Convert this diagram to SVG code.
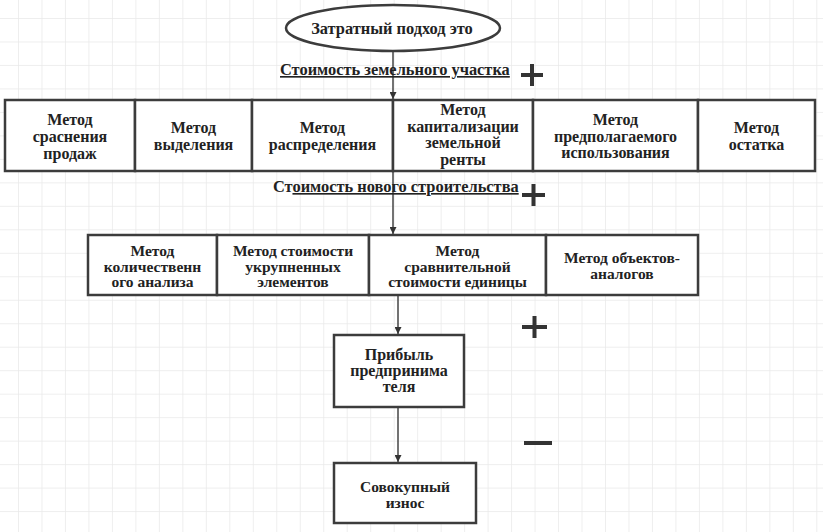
<svg xmlns="http://www.w3.org/2000/svg" width="823" height="532" viewBox="0 0 823 532">
<style>
.box{fill:#fff;stroke:#3c3c3c;stroke-width:2.5}
.t{font-family:"Liberation Serif","Times New Roman",serif;font-weight:bold;font-size:16.4px;fill:#222;text-anchor:middle}
.s{font-size:16px}
.r2{font-size:15.5px}
.lbl{font-family:"Liberation Serif","Times New Roman",serif;font-weight:bold;font-size:16.4px;fill:#222}
.u{text-decoration:underline}
.con{stroke:#444;stroke-width:1.5;fill:none;marker-end:url(#arr)}
.sign{stroke:#333;stroke-width:4;fill:none}
</style>
<defs>
<pattern id="grid" patternUnits="userSpaceOnUse" x="18" y="18" width="23.48" height="23.48">
<path d="M0 0H23.48M0 0V23.48" stroke="#e9e9e9" stroke-width="1.5" fill="none"/>
</pattern>
<marker id="arr" viewBox="0 0 10 10" refX="10" refY="5" markerWidth="7" markerHeight="7" markerUnits="userSpaceOnUse" orient="auto">
<path d="M0 0L10 5L0 10z" fill="#333"/>
</marker>
</defs>
<rect width="823" height="532" fill="#fff"/>
<rect width="823" height="532" fill="url(#grid)"/>

<g id="connectors">
<path class="con" d="M393 51V99"/>
<path class="con" d="M393 172V234"/>
<path class="con" d="M398 296V334"/>
<path class="con" d="M398 408V462"/>
</g>

<g id="start">
<ellipse cx="393" cy="28" rx="107" ry="23" fill="#fff" stroke="#3c3c3c" stroke-width="2.5"/>
<text class="t" x="392" y="34">Затратный подход это</text>
</g>

<g id="label-land">
<text class="lbl u" x="280" y="75">Стоимость земельного участка</text>
</g>
<g id="label-new">
<text class="lbl" x="273" y="192">Ст<tspan class="u">оимость нового строительства</tspan></text>
</g>

<g id="signs">
<path class="sign" d="M521 75H543M532 64V86"/>
<path class="sign" d="M522 195H545M533.5 184V206"/>
<path class="sign" d="M522 327H547M534.5 316V338"/>
<path class="sign" d="M524 443H552"/>
</g>

<g id="m1"><rect class="box" x="5" y="100" width="130" height="71"/>
<text class="t s" x="70" y="125">Метод<tspan x="70" dy="17">сраснения</tspan><tspan x="70" dy="17">продаж</tspan></text></g>
<g id="m2"><rect class="box" x="135" y="100" width="117" height="71"/>
<text class="t s" x="193.5" y="133">Метод<tspan x="193.5" dy="17">выделения</tspan></text></g>
<g id="m3"><rect class="box" x="252" y="100" width="141" height="71"/>
<text class="t s" x="322.5" y="133">Метод<tspan x="322.5" dy="17">распределения</tspan></text></g>
<g id="m4"><rect class="box" x="393" y="100" width="140" height="71"/>
<text class="t s" x="463" y="115">Метод<tspan x="463" dy="16.6">капитализации</tspan><tspan x="463" dy="16.6">земельной</tspan><tspan x="463" dy="16.6">ренты</tspan></text></g>
<g id="m5"><rect class="box" x="533" y="100" width="165" height="71"/>
<text class="t s" x="615.5" y="125">Метод<tspan x="615.5" dy="16.5">предполагаемого</tspan><tspan x="615.5" dy="16.5">использования</tspan></text></g>
<g id="m6"><rect class="box" x="698" y="100" width="117" height="71"/>
<text class="t s" x="756.5" y="133">Метод<tspan x="756.5" dy="16.5">остатка</tspan></text></g>

<g id="n1"><rect class="box" x="88" y="235" width="129" height="60"/>
<text class="t r2" x="152.5" y="256">Метод<tspan x="152.5" dy="15.6">количественн</tspan><tspan x="152.5" dy="15.6">ого анализа</tspan></text></g>
<g id="n2"><rect class="box" x="217" y="235" width="152" height="60"/>
<text class="t r2" x="293" y="256">Метод стоимости<tspan x="293" dy="15.6">укрупненных</tspan><tspan x="293" dy="15.6">элементов</tspan></text></g>
<g id="n3"><rect class="box" x="369" y="235" width="177" height="60"/>
<text class="t r2" x="457.5" y="256">Метод<tspan x="457.5" dy="15.6">сравнительной</tspan><tspan x="457.5" dy="15.6">стоимости единицы</tspan></text></g>
<g id="n4"><rect class="box" x="546" y="235" width="152" height="60"/>
<text class="t r2" x="622" y="263">Метод объектов-<tspan x="622" dy="15.6">аналогов</tspan></text></g>

<g id="profit"><rect class="box" x="334" y="335" width="130" height="72"/>
<text class="t s" x="399" y="360">Прибыль<tspan x="399" dy="16">предпринима</tspan><tspan x="399" dy="16">теля</tspan></text></g>
<g id="wear"><rect class="box" x="334" y="463" width="142" height="60"/>
<text class="t r2" x="405" y="492">Совокупный<tspan x="405" dy="15.6">износ</tspan></text></g>
</svg>
